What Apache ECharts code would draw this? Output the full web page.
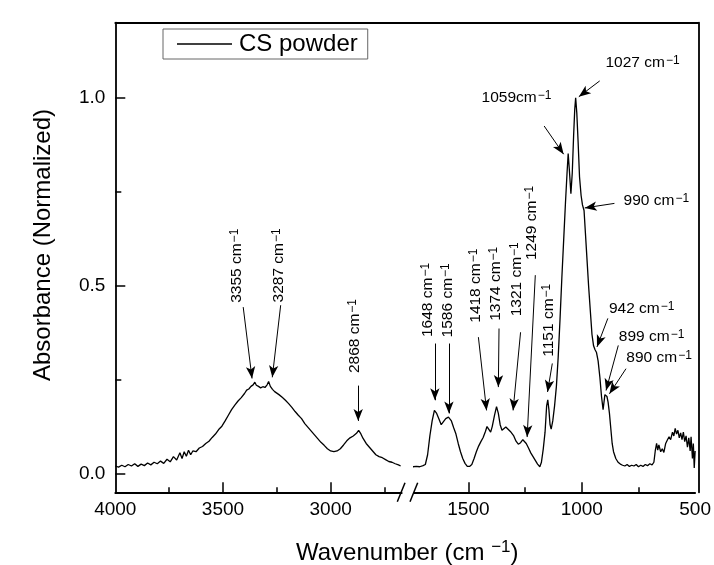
<!DOCTYPE html>
<html>
<head>
<meta charset="utf-8">
<script src="https://cdn.jsdelivr.net/npm/echarts@6/dist/echarts.min.js"></script>
<style>
html, body { margin: 0; background: #fff; }
#chart { width: 714px; height: 565px; }
</style>
</head>
<body>
<div id="chart"></div>
<script>
// spectrum, high wavenumber part (4000 - 2670 cm-1)
var leftWn = [4000, 3985, 3970, 3955, 3940, 3925, 3910, 3895, 3880, 3865, 3850, 3835, 3820, 3805, 3790, 3775,
    3760, 3745, 3730, 3715, 3700, 3690, 3680, 3670, 3660, 3650, 3640, 3625, 3610, 3595, 3580, 3565, 3550,
    3535, 3520, 3505, 3490, 3475, 3460, 3445, 3430, 3415, 3400, 3390, 3380, 3370, 3360, 3352, 3345, 3335,
    3325, 3315, 3305, 3295, 3288, 3280, 3270, 3260, 3250, 3240, 3225, 3210, 3195, 3180, 3165, 3150, 3135,
    3120, 3105, 3090, 3075, 3060, 3045, 3030, 3015, 3000, 2985, 2970, 2955, 2940, 2925, 2910, 2895, 2880,
    2870, 2860, 2850, 2835, 2820, 2805, 2790, 2775, 2760, 2745, 2730, 2715, 2700, 2685, 2675];
var leftAbs = [0.020, 0.017, 0.022, 0.018, 0.024, 0.020, 0.026, 0.019, 0.025, 0.021, 0.028, 0.023, 0.030, 0.026, 0.033, 0.027,
    0.038, 0.031, 0.045, 0.036, 0.055, 0.040, 0.058, 0.046, 0.062, 0.050, 0.060, 0.058, 0.068, 0.072, 0.080, 0.086, 0.096,
    0.105, 0.117, 0.126, 0.140, 0.155, 0.170, 0.182, 0.193, 0.202, 0.213, 0.222, 0.225, 0.232, 0.236, 0.243, 0.235, 0.232,
    0.228, 0.231, 0.229, 0.236, 0.245, 0.232, 0.224, 0.218, 0.214, 0.210, 0.203, 0.195, 0.186, 0.176, 0.165, 0.155, 0.146,
    0.133, 0.123, 0.113, 0.103, 0.093, 0.083, 0.075, 0.066, 0.060, 0.058, 0.060, 0.066, 0.076, 0.087, 0.095, 0.100, 0.107,
    0.115, 0.106, 0.094, 0.080, 0.070, 0.060, 0.050, 0.045, 0.042, 0.037, 0.032, 0.030, 0.026, 0.023, 0.020];

// spectrum, fingerprint part (1745 - 500 cm-1)
var rightWn = [1745, 1730, 1715, 1700, 1690, 1680, 1670, 1660, 1650, 1640, 1630, 1620, 1610, 1600, 1588, 1575,
    1565, 1555, 1545, 1535, 1525, 1515, 1505, 1495, 1485, 1475, 1465, 1455, 1445, 1435, 1425, 1418, 1410,
    1402, 1395, 1385, 1376, 1368, 1360, 1352, 1345, 1335, 1325, 1315, 1307, 1300, 1290, 1280, 1270, 1260,
    1252, 1245, 1235, 1225, 1215, 1205, 1195, 1185, 1178, 1170, 1162, 1155, 1150, 1145, 1140, 1135, 1128,
    1120, 1112, 1104, 1096, 1088, 1080, 1072, 1065, 1060, 1055, 1048, 1042, 1036, 1031, 1027, 1022, 1016,
    1010, 1003, 997, 990, 984, 978, 970, 962, 955, 948, 942, 935, 928, 920, 913, 906, 902, 898, 893, 889,
    884, 878, 872, 866, 860, 850, 840, 830, 820, 810, 800, 790, 780, 770, 760, 750, 740, 730, 720, 710,
    700, 690, 682, 676, 670, 665, 660, 652, 645, 638, 630, 622, 615, 608, 600, 594, 588, 582, 576, 570,
    564, 558, 552, 546, 540, 534, 528, 522, 518, 512, 508, 504, 500];
var rightAbs = [0.018, 0.019, 0.018, 0.021, 0.024, 0.050, 0.100, 0.140, 0.168, 0.160, 0.145, 0.130, 0.138, 0.146, 0.150, 0.140,
    0.122, 0.105, 0.080, 0.058, 0.040, 0.027, 0.019, 0.019, 0.024, 0.040, 0.058, 0.073, 0.085, 0.096, 0.112, 0.125, 0.120,
    0.110, 0.125, 0.155, 0.178, 0.160, 0.130, 0.115, 0.120, 0.124, 0.118, 0.112, 0.114, 0.100, 0.086, 0.078, 0.082, 0.090,
    0.092, 0.080, 0.068, 0.055, 0.045, 0.035, 0.025, 0.018, 0.030, 0.065, 0.110, 0.180, 0.196, 0.170, 0.130, 0.118, 0.140,
    0.180, 0.232, 0.310, 0.410, 0.520, 0.620, 0.720, 0.800, 0.852, 0.810, 0.745, 0.800, 0.900, 0.970, 1.000, 0.960, 0.880,
    0.790, 0.740, 0.715, 0.700, 0.640, 0.580, 0.500, 0.430, 0.370, 0.340, 0.330, 0.322, 0.300, 0.255, 0.205, 0.170, 0.175, 0.210, 0.214, 0.205,
    0.190, 0.160, 0.120, 0.080, 0.058, 0.040, 0.030, 0.025, 0.022, 0.020, 0.024, 0.019, 0.022, 0.020, 0.024, 0.018, 0.022, 0.019, 0.024, 0.021,
    0.026, 0.023, 0.030, 0.060, 0.080, 0.062, 0.076, 0.058, 0.066, 0.056, 0.080, 0.090, 0.098, 0.090, 0.110, 0.100, 0.120, 0.105, 0.115, 0.095,
    0.108, 0.090, 0.110, 0.085, 0.100, 0.070, 0.095, 0.060, 0.098, 0.040, 0.080, 0.015, 0.060];

// peak labels
var leftPeaks = ['3355 cm', '3287 cm', '2868 cm'];
var rightPeaks = ['1648 cm', '1586 cm', '1418 cm', '1374 cm', '1321 cm', '1249 cm', '1151 cm',
    '1059cm', '1027 cm', '990 cm', '942 cm', '899 cm', '890 cm'];

// where each label sits and where its arrow goes (data coords)
var leftNotes = [
    { at: [3436, 0.553], rot: 90, from: [3406, 0.443], to: [3365, 0.253] },
    { at: [3243, 0.554], rot: 90, from: [3232, 0.448], to: [3271, 0.256] },
    { at: [2887, 0.366], rot: 90, from: [2872, 0.234], to: [2872, 0.140] }
];
var rightNotes = [
    { at: [1678, 0.462], rot: 90, from: [1648, 0.346], to: [1648, 0.195] },
    { at: [1590, 0.461], rot: 90, from: [1586, 0.346], to: [1586, 0.160] },
    { at: [1467, 0.500], rot: 90, from: [1456, 0.363], to: [1420, 0.168] },
    { at: [1379, 0.505], rot: 90, from: [1365, 0.386], to: [1368, 0.230] },
    { at: [1285, 0.517], rot: 90, from: [1270, 0.376], to: [1303, 0.168] },
    { at: [1220, 0.667], rot: 90, from: [1205, 0.528], to: [1241, 0.097] },
    { at: [1147, 0.408], rot: 90, from: [1130, 0.293], to: [1151, 0.217] },
    { at: [1288, 1.001], rot: 0, from: [1166, 0.925], to: [1080, 0.850] },
    { at: [732, 1.094], rot: 0, from: [921, 1.045], to: [1013, 1.003] },
    { at: [671, 0.727], rot: 0, from: [856, 0.719], to: [987, 0.707] },
    { at: [736, 0.439], rot: 0, from: [885, 0.413], to: [933, 0.337] },
    { at: [692, 0.365], rot: 0, from: [839, 0.341], to: [893, 0.221] },
    { at: [659, 0.307], rot: 0, from: [805, 0.279], to: [878, 0.212] }
];

var font = "'Liberation Sans', Arial, sans-serif";
var supRich = {
    m: { fontSize: 15.5, lineHeight: 16, fontFamily: font, color: '#000', verticalAlign: 'bottom' },
    s: { fontSize: 12, lineHeight: 12, fontFamily: font, color: '#000', verticalAlign: 'top', padding: [0, 0, 14, 1] }
};

function zip(xs, ys) {
    var out = [];
    for (var i = 0; i < xs.length; i++) out.push([xs[i], ys[i]]);
    return out;
}

function notePoints(labels, notes) {
    return labels.map(function (t, i) {
        return {
            coord: notes[i].at,
            label: { rotate: notes[i].rot, formatter: '{m|' + t + '}{s|\u22121}' }
        };
    });
}

function noteArrows(notes) {
    return notes.map(function (n) {
        return [{ coord: n.from }, { coord: n.to }];
    });
}

function markers(labels, notes) {
    return {
        markPoint: {
            silent: true,
            symbol: 'circle',
            symbolSize: 1,
            itemStyle: { color: 'rgba(0,0,0,0)' },
            label: { show: true, position: 'inside', rich: supRich },
            data: notePoints(labels, notes)
        },
        markLine: {
            silent: true,
            symbol: ['none', 'arrow'],
            symbolSize: [7, 12],
            label: { show: false },
            lineStyle: { color: '#000', width: 1, type: 'solid' },
            emphasis: { disabled: true },
            data: noteArrows(notes)
        }
    };
}

var axisLine = { show: true, onZero: false, lineStyle: { color: '#000', width: 1.8 } };
var noLine = { show: false, onZero: false };
var tickStyle = { color: '#000', width: 1.5 };
var labelStyle = {
    color: '#000', fontSize: 19, fontFamily: font, margin: 8,
    formatter: function (v) { return String(v); }
};

var myChart = echarts.init(document.getElementById('chart'));
var leftMarks = markers(leftPeaks, leftNotes);
var rightMarks = markers(rightPeaks, rightNotes);

var option = {
    animation: false,
    backgroundColor: '#fff',
    grid: [
        { left: 115.3, top: 22.7, width: 286.4, height: 469.6 },
        { left: 414, top: 22.7, width: 284.3, height: 469.6 },
        { left: 115.3, top: 22.7, width: 583, height: 469.6 }
    ],
    legend: {
        left: 163,
        top: 29,
        padding: [3, 10, 3, 14],
        borderColor: '#666',
        borderWidth: 1,
        backgroundColor: '#fff',
        icon: 'rect',
        itemWidth: 55,
        itemHeight: 1.6,
        textStyle: { fontSize: 24, fontFamily: font, color: '#000', padding: [0, 0, 0, 2] },
        data: ['CS powder']
    },
    xAxis: [
        {
            gridIndex: 0, type: 'value', position: 'bottom', min: 2670, max: 4000, inverse: true,
            axisLine: axisLine,
            axisTick: { inside: true, length: 10, lineStyle: tickStyle, customValues: [3000, 3500] },
            axisLabel: Object.assign({ customValues: [3000, 3500, 4000] }, labelStyle),
            splitLine: { show: false }
        },
        {
            gridIndex: 0, type: 'value', position: 'bottom', min: 2670, max: 4000, inverse: true,
            axisLine: noLine,
            axisTick: { inside: true, length: 5, lineStyle: tickStyle, customValues: [2750, 3250, 3750] },
            axisLabel: { show: false },
            splitLine: { show: false }
        },
        {
            gridIndex: 1, type: 'value', position: 'bottom', min: 500, max: 1740, inverse: true,
            axisLine: axisLine,
            axisTick: { inside: true, length: 10, lineStyle: tickStyle, customValues: [1000, 1500] },
            axisLabel: Object.assign({ customValues: [500, 1000, 1500] }, labelStyle),
            splitLine: { show: false }
        },
        {
            gridIndex: 1, type: 'value', position: 'bottom', min: 500, max: 1740, inverse: true,
            axisLine: noLine,
            axisTick: { inside: true, length: 5, lineStyle: tickStyle, customValues: [750, 1250] },
            axisLabel: { show: false },
            splitLine: { show: false }
        },
        {
            gridIndex: 2, type: 'value', position: 'top', min: 0, max: 1,
            axisLine: axisLine, axisTick: { show: false }, axisLabel: { show: false }, splitLine: { show: false }
        }
    ],
    yAxis: [
        {
            gridIndex: 0, type: 'value', position: 'left', min: -0.05, max: 1.2,
            axisLine: axisLine,
            axisTick: { inside: true, length: 10, lineStyle: tickStyle, customValues: [0, 0.5, 1] },
            axisLabel: Object.assign({}, labelStyle, {
                customValues: [0, 0.5, 1],
                margin: 10,
                formatter: function (v) { return v.toFixed(1); }
            }),
            splitLine: { show: false }
        },
        {
            gridIndex: 0, type: 'value', position: 'left', min: -0.05, max: 1.2,
            axisLine: noLine,
            axisTick: { inside: true, length: 6, lineStyle: tickStyle, customValues: [0.25, 0.75] },
            axisLabel: { show: false },
            splitLine: { show: false }
        },
        {
            gridIndex: 1, type: 'value', position: 'left', min: -0.05, max: 1.2,
            axisLine: noLine, axisTick: { show: false }, axisLabel: { show: false }, splitLine: { show: false }
        },
        {
            gridIndex: 2, type: 'value', position: 'right', min: 0, max: 1,
            axisLine: axisLine, axisTick: { show: false }, axisLabel: { show: false }, splitLine: { show: false }
        }
    ],
    series: [
        Object.assign({
            name: 'CS powder',
            type: 'line',
            xAxisIndex: 0,
            yAxisIndex: 0,
            symbol: 'none',
            lineStyle: { color: '#000', width: 1.3 },
            itemStyle: { color: '#000' },
            data: zip(leftWn, leftAbs)
        }, leftMarks),
        Object.assign({
            name: 'CS powder',
            type: 'line',
            xAxisIndex: 2,
            yAxisIndex: 2,
            symbol: 'none',
            lineStyle: { color: '#000', width: 1.3 },
            itemStyle: { color: '#000' },
            data: zip(rightWn, rightAbs)
        }, rightMarks)
    ],
    graphic: [
        {
            type: 'text', x: 43, y: 245, rotation: Math.PI / 2,
            style: {
                text: 'Absorbance (Normalized)', fill: '#000', font: '24px ' + font,
                textAlign: 'center', textVerticalAlign: 'middle'
            }
        },
        {
            type: 'text', x: 296, y: 552,
            style: {
                text: '{m|Wavenumber (cm }{s|\u22121}{m|)}',
                textAlign: 'left', textVerticalAlign: 'middle',
                rich: {
                    m: { fontSize: 24, lineHeight: 26, fontFamily: font, fill: '#000', verticalAlign: 'bottom' },
                    s: { fontSize: 17, lineHeight: 17, fontFamily: font, fill: '#000', verticalAlign: 'top', padding: [0, 0, 13, 0] }
                }
            }
        },
        // axis break marks
        { type: 'line', shape: { x1: 397.3, y1: 501.7, x2: 405, y2: 482.7 }, style: { stroke: '#000', lineWidth: 1.5 } },
        { type: 'line', shape: { x1: 410, y1: 501.7, x2: 417.7, y2: 482.7 }, style: { stroke: '#000', lineWidth: 1.5 } }
    ]
};
myChart.setOption(option);
</script>
</body>
</html>
